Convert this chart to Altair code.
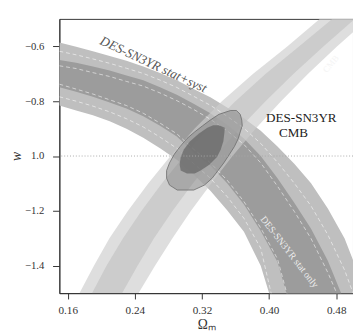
import altair as alt
import pandas as pd

# ---- DES-SN3YR (stat+syst) band, sampled on a grid of Omega_m ----
sn_om = [0.15, 0.17, 0.19, 0.21, 0.23, 0.25, 0.27, 0.29, 0.31, 0.33,
         0.35, 0.37, 0.39, 0.41, 0.43, 0.45, 0.47, 0.49, 0.50]
sn95_hi = [-0.586, -0.602, -0.618, -0.635, -0.653, -0.674, -0.697, -0.724, -0.756, -0.786,
           -0.823, -0.862, -0.908, -0.965, -1.028, -1.099, -1.191, -1.301, -1.379]
sn95_lo = [-0.816, -0.834, -0.851, -0.873, -0.901, -0.933, -0.972, -1.014, -1.067, -1.127,
           -1.198, -1.276, -1.400, -1.60, -1.60, -1.60, -1.60, -1.60, -1.60]
sn68_hi = [-0.650, -0.660, -0.674, -0.688, -0.706, -0.724, -0.749, -0.777, -0.809, -0.844,
           -0.887, -0.936, -1.000, -1.081, -1.170, -1.265, -1.382, -1.531, -1.619]
sn68_lo = [-0.749, -0.766, -0.784, -0.805, -0.827, -0.855, -0.890, -0.929, -0.986, -1.035,
           -1.099, -1.177, -1.273, -1.386, -1.60, -1.60, -1.60, -1.60, -1.60]

# ---- DES-SN3YR stat-only contours (dashed) ----
stat95_hi = [-0.618, -0.631, -0.646, -0.662, -0.680, -0.699, -0.723, -0.750, -0.782, -0.815,
             -0.855, -0.899, -0.954, -1.023, -1.099, -1.182, -1.287, -1.416, -1.499]
stat68_hi = [-0.671, -0.681, -0.696, -0.710, -0.728, -0.745, -0.770, -0.798, -0.830, -0.866,
             -0.908, -0.958, -1.025, -1.110, -1.202, -1.301, -1.425, -1.566, -1.650]
stat68_lo = [-0.738, -0.756, -0.774, -0.795, -0.816, -0.844, -0.880, -0.919, -0.975, -1.025,
             -1.088, -1.166, -1.262, -1.375, -1.60, -1.60, -1.60, -1.60, -1.60]
stat95_lo = [-0.784, -0.800, -0.818, -0.839, -0.864, -0.894, -0.931, -0.972, -1.027, -1.081,
             -1.148, -1.227, -1.336, -1.60, -1.60, -1.60, -1.60, -1.60, -1.60]

# ---- CMB band, sampled on a grid of w ----
cmb_w = [-1.5, -1.4, -1.3, -1.2, -1.1, -1.0, -0.9, -0.8, -0.7, -0.6, -0.5]
cmb95_lo = [0.1739, 0.1912, 0.2097, 0.2316, 0.2559, 0.2825, 0.3113, 0.3437, 0.3810, 0.4220, 0.4604]
cmb68_lo = [0.1889, 0.2062, 0.2259, 0.2478, 0.2721, 0.2986, 0.3275, 0.3599, 0.3960, 0.4360, 0.4754]
cmb68_hi = [0.2247, 0.2432, 0.2628, 0.2848, 0.3090, 0.3356, 0.3645, 0.3957, 0.4292, 0.4650, 0.5020]
cmb95_hi = [0.2443, 0.2640, 0.2848, 0.3067, 0.3310, 0.3564, 0.3841, 0.4142, 0.4465, 0.4812, 0.5181]

# ---- combined DES-SN3YR + CMB contours ----
comb95_w = [-0.834, -0.848, -0.869, -0.890, -0.912, -0.936, -0.965, -0.993, -1.025, -1.053, -1.081, -1.106, -1.124]
comb95_lo = [0.3541, 0.3402, 0.3298, 0.3206, 0.3113, 0.3021, 0.2940, 0.2871, 0.2813, 0.2778, 0.2778, 0.2813, 0.2905]
comb95_hi = [0.3610, 0.3656, 0.3674, 0.3680, 0.3656, 0.3633, 0.3587, 0.3529, 0.3460, 0.3391, 0.3321, 0.3229, 0.3102]
comb68_w = [-0.888, -0.897, -0.919, -0.947, -0.975, -1.004, -1.032, -1.053, -1.064]
comb68_lo = [0.3333, 0.3264, 0.3160, 0.3056, 0.2986, 0.2946, 0.2934, 0.2946, 0.3021]
comb68_hi = [0.3402, 0.3472, 0.3466, 0.3454, 0.3425, 0.3379, 0.3287, 0.3183, 0.3113]

# ---- axis ticks ----
x_ticks = [0.16, 0.24, 0.32, 0.40, 0.48]
y_ticks = [-0.6, -0.8, -1.0, -1.2, -1.4]

# ---- labels ----
lab_text = ["DES-SN3YR stat+syst", "DES-SN3YR", "CMB", "CMB", "DES-SN3YR stat only"]
lab_om = [0.260, 0.4384, 0.4290, 0.4736, 0.4240]
lab_w = [-0.680, -0.862, -0.918, -0.664, -1.350]

FONT = "Liberation Serif"
xs = alt.Scale(domain=[0.15, 0.5], nice=False, zero=False)
ys = alt.Scale(domain=[-1.5, -0.5], nice=False, zero=False)
xax = alt.Axis(values=x_ticks, format=".2f", title="Ωₘ", grid=False, tickSize=6,
               labelPadding=6, titlePadding=2, labelFont=FONT, titleFont=FONT,
               labelFontSize=11.5, titleFontSize=14, titleFontWeight="normal",
               labelColor="#333", titleColor="#333", domainColor="#333", tickColor="#333")
yax = alt.Axis(values=y_ticks, labelExpr="datum.value == -1 ? '1.0' : datum.label",
               title="w", grid=False, tickSize=7, labelPadding=9,
               titleX=-44, titleY=141.5, titleAngle=270, titleBaseline="middle", titleAlign="center",
               labelFont=FONT, titleFont=FONT, labelFontSize=11, titleFontSize=14,
               titleFontStyle="italic", titleFontWeight="normal",
               labelColor="#333", titleColor="#333", domainColor="#333", tickColor="#333")


def X(f):
    return alt.X(f, type="quantitative", scale=xs, axis=xax)


def Y(f):
    return alt.Y(f, type="quantitative", scale=ys, axis=yax)


sn_df = pd.DataFrame({"om": sn_om, "h95": sn95_hi, "l95": sn95_lo, "h68": sn68_hi, "l68": sn68_lo,
                      "s95h": stat95_hi, "s68h": stat68_hi, "s68l": stat68_lo, "s95l": stat95_lo})
cmb_df = pd.DataFrame({"w": cmb_w, "l95": cmb95_lo, "l68": cmb68_lo, "h68": cmb68_hi, "h95": cmb95_hi})
c95_df = pd.DataFrame({"w": comb95_w, "lo": comb95_lo, "hi": comb95_hi})
c68_df = pd.DataFrame({"w": comb68_w, "lo": comb68_lo, "hi": comb68_hi})

layers = []
layers.append(alt.Chart(sn_df).mark_area(orient="vertical", color="#bfbfbf", clip=True)
              .encode(x=X("om"), y=Y("h95"), y2="l95"))
layers.append(alt.Chart(sn_df).mark_area(orient="vertical", color="#9c9c9c", clip=True)
              .encode(x=X("om"), y=Y("h68"), y2="l68"))
layers.append(alt.Chart(cmb_df).mark_area(orient="horizontal", color="#cdcdcd", opacity=0.65, clip=True)
              .encode(y=Y("w"), x=X("l95"), x2="h95"))
layers.append(alt.Chart(cmb_df).mark_area(orient="horizontal", color="#c2c2c2", opacity=0.65, clip=True)
              .encode(y=Y("w"), x=X("l68"), x2="h68"))
for f in ["s95h", "s68h", "s68l", "s95l"]:
    layers.append(alt.Chart(sn_df).mark_line(color="white", strokeDash=[4, 3], strokeWidth=0.7,
                                             opacity=0.8, clip=True)
                  .encode(x=X("om"), y=Y(f)))
layers.append(alt.Chart(c95_df).mark_area(orient="horizontal", color="#7a7a7a", fillOpacity=0.42,
                                          stroke="#6a6a6a", strokeWidth=0.8, clip=True)
              .encode(y=Y("w"), x=X("lo"), x2="hi"))
layers.append(alt.Chart(c68_df).mark_area(orient="horizontal", color="#5e5e5e", opacity=0.65, clip=True)
              .encode(y=Y("w"), x=X("lo"), x2="hi"))
layers.append(alt.Chart(pd.DataFrame({"w": [-1.0]})).mark_rule(color="#a8a8a8", strokeDash=[1, 2],
                                                                strokeWidth=1)
              .encode(y=Y("w")))

lab = pd.DataFrame({"t": lab_text, "om": lab_om, "w": lab_w})
styles = [
    dict(angle=25, fontSize=13.5, fontStyle="italic", color="#555", baseline="alphabetic"),
    dict(angle=0, fontSize=13.5, color="#222", baseline="middle"),
    dict(angle=0, fontSize=13.5, color="#222", baseline="middle"),
    dict(angle=310, fontSize=9, color="#f4f4f4", baseline="middle"),
    dict(angle=52, fontSize=10, color="#eeeeee", baseline="middle"),
]
for i, st in enumerate(styles):
    layers.append(alt.Chart(lab.iloc[[i]]).mark_text(font=FONT, align="center", **st)
                  .encode(x=X("om"), y=Y("w"), text="t:N"))

chart = alt.layer(*layers).properties(
    width=303, height=283,
    autosize=alt.AutoSizeParams(type="none"),
    padding={"left": 53, "top": 6, "right": 0, "bottom": 40},
).configure_view(stroke="#333", strokeWidth=1)

chart.save("out.html", embed_options={"renderer": "svg", "actions": False})
